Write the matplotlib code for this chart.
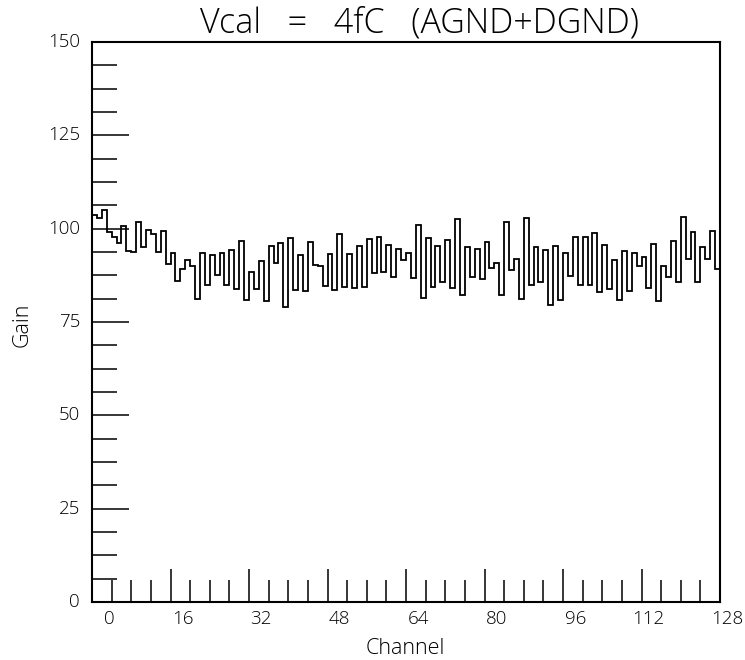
import numpy as np
import matplotlib
matplotlib.use("Agg")
import matplotlib.pyplot as plt
from matplotlib import font_manager as fm
from matplotlib.transforms import ScaledTranslation

# ---- data ----
title = "Vcal   =   4fC   (AGND+DGND)"
x_label = "Channel"
y_label = "Gain"
x_tick_values = [0, 16, 32, 48, 64, 80, 96, 112, 128]
y_tick_values = [0, 25, 50, 75, 100, 125, 150]

gain = [
    103.6, 102.9, 105.1, 99.0, 97.9, 96.1, 100.6, 93.9, 93.7, 101.8,
    95.0, 99.6, 98.6, 93.7, 99.3, 90.5, 93.6, 86.0, 89.2, 91.7,
    89.9, 81.2, 93.6, 84.8, 93.0, 87.6, 93.5, 84.9, 94.4, 83.9,
    96.8, 80.9, 88.5, 83.8, 91.4, 80.5, 95.4, 90.8, 96.1, 78.9,
    97.5, 83.7, 93.0, 83.3, 96.4, 90.3, 90.1, 84.7, 93.1, 83.6,
    98.6, 84.5, 93.3, 84.2, 95.4, 84.5, 97.3, 88.1, 97.7, 88.3,
    95.7, 87.1, 94.5, 91.5, 93.6, 86.9, 100.9, 81.4, 97.5, 84.5,
    95.3, 85.8, 97.0, 84.2, 102.6, 82.1, 95.1, 87.1, 94.6, 86.6,
    96.3, 89.4, 90.8, 82.3, 101.8, 89.0, 91.9, 81.2, 102.9, 84.9,
    95.1, 85.8, 94.3, 79.6, 95.4, 80.9, 93.5, 87.2, 97.7, 84.9,
    97.7, 84.8, 98.8, 83.0, 95.7, 83.9, 91.7, 80.9, 94.1, 83.4,
    93.5, 89.9, 92.4, 84.2, 96.0, 80.7, 89.9, 87.0, 96.8, 85.7,
    103.1, 91.8, 99.1, 85.8, 95.0, 91.9, 99.5, 89.2,
]


def pick_light_font():
    prefs = ['Open Sans', 'Noto Sans', 'Roboto', 'Lato', 'Inter']
    entries = fm.fontManager.ttflist

    def wnum(w):
        if isinstance(w, str):
            return fm.weight_dict.get(w, 400)
        return int(w)

    for lo, hi in ((280, 320), (200, 350)):
        for fam in prefs:
            for e in entries:
                if e.name == fam and e.style == 'normal' and lo <= wnum(e.weight) <= hi:
                    return fam, wnum(e.weight)
    return 'DejaVu Sans', 400


FAMILY, WEIGHT = pick_light_font()
plt.rcParams['font.family'] = [FAMILY, 'DejaVu Sans']
plt.rcParams['font.weight'] = WEIGHT

n_bins = len(gain)
edges = np.arange(n_bins + 1)

W, H = 745, 660
fig = plt.figure(figsize=(W / 100, H / 100), dpi=100)
ax = fig.add_axes([92 / W, 58 / H, 628 / W, 560 / H])

ax.stairs(gain, edges, baseline=None, color='black', linewidth=1.3)

ax.set_xlim(0, n_bins)
ax.set_ylim(0, 150)

ax.set_xticks(x_tick_values)
ax.set_xticklabels([str(v) for v in x_tick_values], ha='right')
ax.set_xticks(np.arange(0, n_bins + 1, 4), minor=True)
ax.set_yticks(y_tick_values)
ax.set_yticklabels([str(v) for v in y_tick_values])
ax.set_yticks(np.arange(0, 150.01, 6.25), minor=True)

ax.tick_params(axis='x', which='major', direction='in', length=23.8, width=1.1,
               labelsize=13.5, pad=6)
ax.tick_params(axis='x', which='minor', direction='in', length=15.6, width=1.1)
ax.tick_params(axis='y', which='major', direction='in', length=26.6, width=1.1,
               labelsize=13.5, pad=8.6)
ax.tick_params(axis='y', which='minor', direction='in', length=18, width=1.1)

# x labels in the reference end (right edge) about 23 px right of their ticks
offset = ScaledTranslation(23 / 100, 0, fig.dpi_scale_trans)
for lab in ax.get_xticklabels():
    lab.set_transform(lab.get_transform() + offset)
yoff = ScaledTranslation(0, 2 / 100, fig.dpi_scale_trans)
for lab in ax.get_yticklabels():
    lab.set_transform(lab.get_transform() + yoff)

for sp in ax.spines.values():
    sp.set_linewidth(1.5)
    sp.set_color('black')

t_title = fig.text(420 / W, 1 - 33 / H, title, ha='center', va='baseline', fontsize=23)
t_x = fig.text(405 / W, 1 - 648 / H, x_label, ha='center', va='center', fontsize=15.5)
t_y = fig.text(22 / W, 1 - 325 / H, y_label, ha='center', va='center', fontsize=15.5,
               rotation=90)

# fit the title width to the one measured on the reference (bounded size)
fig.canvas.draw()
r = fig.canvas.get_renderer()
bb = t_title.get_window_extent(r)
if bb.width > 0:
    t_title.set_fontsize(min(t_title.get_fontsize() * 446 / bb.width, 24.5))

fig.savefig("out.png", dpi=100)
